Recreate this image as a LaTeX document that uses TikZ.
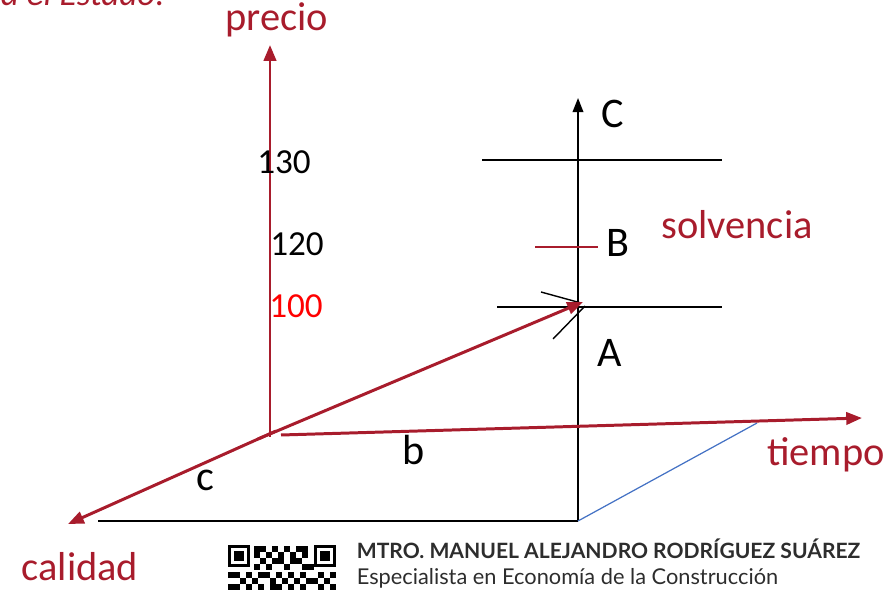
\documentclass[tikz,border=0pt]{standalone}
\usepackage{fontspec}
\setmainfont{Carlito}
\newfontfamily\footfont{Lato}
\usetikzlibrary{arrows.meta}
\definecolor{axisred}{RGB}{168,28,44}
\definecolor{footgray}{RGB}{45,45,45}
\definecolor{lineblue}{RGB}{68,114,196}
\begin{document}
\begin{tikzpicture}[x=0.02cm, y=-0.02cm, line width=1.1pt,
    redaxis/.style={draw=axisred, line width=1.7pt, -{Triangle[length=9pt,width=7pt]}},
    redlabel/.style={text=axisred, font=\fontsize{23}{26}\selectfont},
    letter/.style={font=\fontsize{24}{28}\selectfont},
    number/.style={font=\fontsize{20}{24}\selectfont}]
  \useasboundingbox (0,0) rectangle (895,590);
  \clip (0,0) rectangle (895,590);
  % axis points
  \coordinate (O) at (270,437);
  \coordinate (P) at (270,45);
  \coordinate (Q) at (68,524);
  \coordinate (T) at (862,418);
  \coordinate (S) at (583,302);
  \coordinate (Cb) at (578,521);
  \coordinate (Ct) at (578,98);
  \coordinate (L) at (98,521);
  \coordinate (E) at (757,423);
  % black frame
  \draw (L) -- (Cb);
  \draw[-{Triangle[length=8pt,width=6pt]}] (Cb) -- (Ct);
  \draw (482,160) coordinate (h1a) -- (722,160) coordinate (h1b);
  \draw (497,307) coordinate (h2a) -- (722,307) coordinate (h2b);
  \draw[line width=0.8pt] (541,292) coordinate (k1) -- (581,303) coordinate (k0);
  \draw[line width=0.8pt] (553,339) coordinate (k2) -- (585,306) coordinate (k3);
  \draw[axisred, line width=0.6pt] (535,247) coordinate (r1) -- (598,247) coordinate (r2);
  \draw[lineblue, line width=0.7pt] (Cb) -- (E);
  % red axes
  \draw[redaxis] (O) -- (P);
  \draw[redaxis] (276,431) -- (Q);
  \draw[redaxis] (258,439) -- (S);
  \draw[redaxis] (281,435) -- (T);
  % labels
  \node[redlabel] (precio) at (277,20) {precio};
  \node[redlabel] (solv) at (737,225) {solvencia};
  \node[redlabel] (tiempo) at (826,455) {tiempo};
  \node[redlabel] (calidad) at (80,567) {calidad};
  \node[number] (n130) at (284,162) {130};
  \node[number] (n120) at (297,244) {120};
  \node[number, text=red] (n100) at (296,306) {100};
  \node[letter] (lC) at (613,114) {C};
  \node[letter] (lB) at (618,243) {B};
  \node[letter] (lA) at (610,353) {A};
  \node[letter] (lb) at (414,450) {b};
  \node[letter] (lc) at (205,480) {c};
  \node[redlabel, font=\fontsize{20}{24}\selectfont\itshape, anchor=base west] (estado) at (-6,6) {a el Estado.};
  % footer
  \fill (228,545) rectangle (250,567);
  \fill[white] (231,548) rectangle (247,564);
  \fill (234,551) rectangle (244,561);
  \fill (314,545) rectangle (336,567);
  \fill[white] (317,548) rectangle (333,564);
  \fill (320,551) rectangle (330,561);
  \foreach \qx/\qy in {254/546,260/546,272/546,284/546,296/546,302/546,254/552,266/552,278/552,290/552,302/552,260/558,272/558,278/558,290/558,296/558,254/564,266/564,284/564,302/564,308/564,228/572,234/572,246/572,258/572,264/572,276/572,288/572,300/572,318/572,330/572,240/578,252/578,270/578,282/578,294/578,306/578,312/578,324/578,228/584,234/584,246/584,258/584,270/584,276/584,288/584,300/584,318/584,330/584}
    \fill (\qx,\qy) rectangle ++(6,6);
  \node[anchor=base west, text=footgray, font=\footfont\bfseries\fontsize{12}{14}\selectfont] (autor) at (350,558) {MTRO. MANUEL ALEJANDRO RODRÍGUEZ SUÁREZ};
  \node[anchor=base west, text=footgray, font=\footfont\fontsize{12.4}{14}\selectfont] (cargo) at (350,584) {Especialista en Economía de la Construcción};
\end{tikzpicture}
\end{document}
